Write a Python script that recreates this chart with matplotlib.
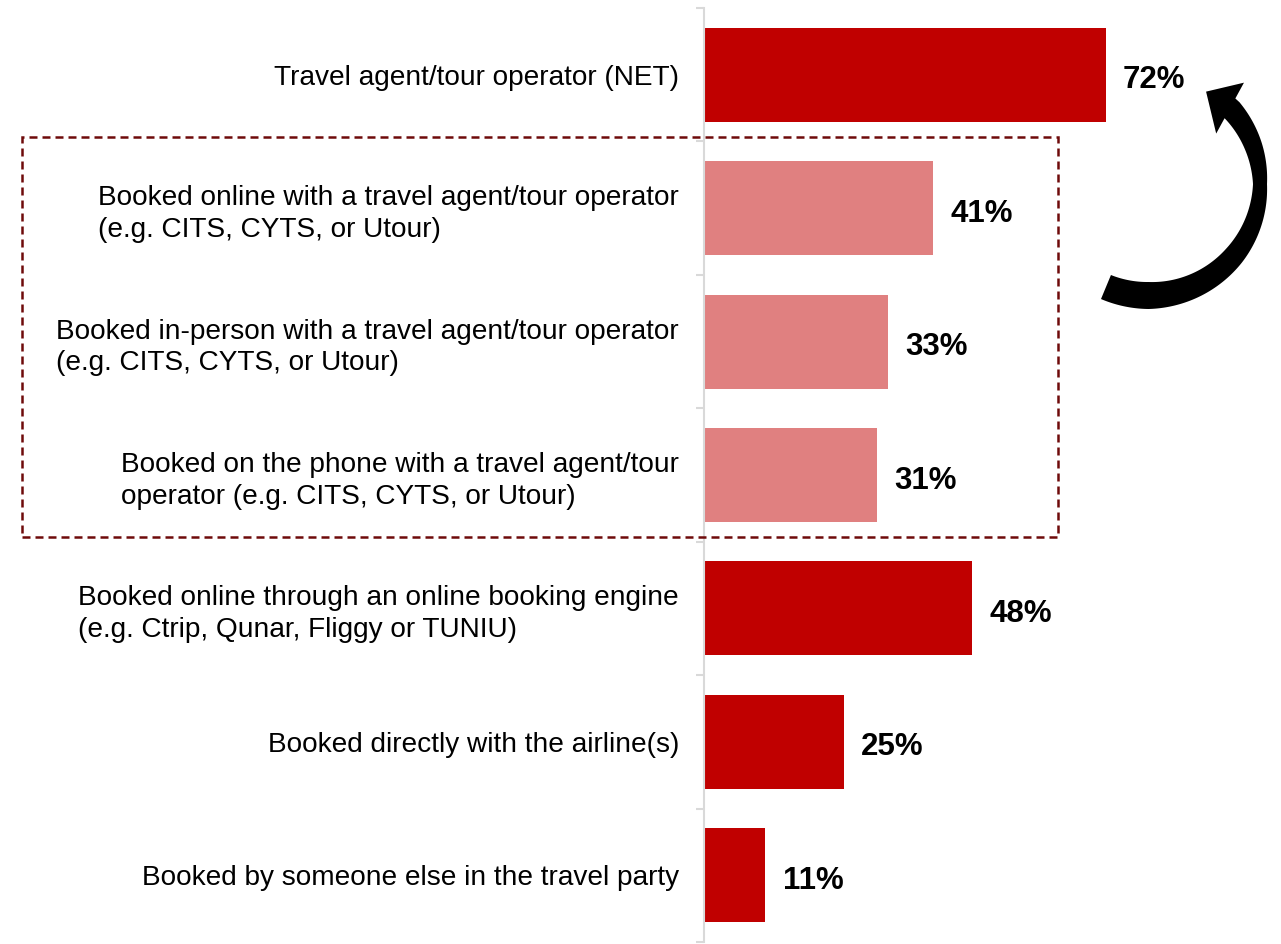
import matplotlib
matplotlib.use("Agg")
import matplotlib.pyplot as plt
import numpy as np
from matplotlib.patches import Rectangle, Polygon

plt.rcParams['font.family'] = ['Liberation Sans', 'DejaVu Sans']

# Booking channels and share of respondents (%)
categories = [
    "Travel agent/tour operator (NET)",
    "Booked online with a travel agent/tour operator\n(e.g. CITS, CYTS, or Utour)",
    "Booked in-person with a travel agent/tour operator\n(e.g. CITS, CYTS, or Utour)",
    "Booked on the phone with a travel agent/tour\noperator (e.g. CITS, CYTS, or Utour)",
    "Booked online through an online booking engine\n(e.g. Ctrip, Qunar, Fliggy or TUNIU)",
    "Booked directly with the airline(s)",
    "Booked by someone else in the travel party",
]
values = [72, 41, 33, 31, 48, 25, 11]
net_components = [False, True, True, True, False, False, False]

DARK = "#C00000"
LIGHT = "#E08080"
AXIS_GREY = "#D9D9D9"
BOX_COLOR = "#6E0A0A"

W, H = 1281, 944
fig = plt.figure(figsize=(W / 100, H / 100), dpi=100)
ax = fig.add_axes([704 / W, 2 / H, 577 / W, 934 / H])

y = np.arange(len(categories))
colors = [LIGHT if c else DARK for c in net_components]
ax.barh(y, values, height=0.705, color=colors, zorder=2)

ax.set_xlim(0, 577 / 5.58)
ax.set_ylim(len(categories) - 0.5, -0.5)

for side in ("top", "right", "bottom"):
    ax.spines[side].set_visible(False)
ax.spines["left"].set_color(AXIS_GREY)
ax.spines["left"].set_linewidth(1.5)
ax.set_xticks([])

ax.set_yticks(y)
ax.set_yticklabels(categories, fontsize=20.2, linespacing=1.28)
ax.tick_params(axis="y", which="major", length=0, pad=18)
ax.set_yticks(np.arange(-0.5, len(categories), 1.0), minor=True)
ax.tick_params(axis="y", which="minor", length=6, width=1.5, color=AXIS_GREY)
for lbl in ax.get_yticklabels():
    lbl.set_multialignment("left")
    if "\n" in lbl.get_text():
        lbl.set_y(lbl.get_position()[1])

for yi, v in zip(y, values):
    ax.annotate(f"{v}%", xy=(v, yi), xytext=(12.5, -9.8), textcoords="offset points",
                ha="left", va="baseline", fontsize=22.5, fontweight="bold")


def fig_xy(px, py):
    return (px / W, 1 - py / H)


# Dashed frame around the NET sub-items
x0, y0 = fig_xy(22, 537)
x1, y1 = fig_xy(1058, 137)
fig.patches.append(Rectangle((x0, y0), x1 - x0, y1 - y0, transform=fig.transFigure,
                             fill=False, edgecolor=BOX_COLOR, linewidth=1.8,
                             linestyle=(0, (3.2, 2.0)), zorder=5))

# Curved arrow pointing from the sub-items up to the NET bar
cx, cy, r = 1148.6, 184.1, 111.4
phi_deg = np.linspace(-112.5, 43, 160)
w = np.interp(phi_deg, [-112.5, -90, -40, 0, 20, 43], [26, 27, 21, 14, 18, 22])
phi = np.radians(phi_deg)
outer = [(cx + (r + wi / 2) * np.cos(p), cy - (r + wi / 2) * np.sin(p)) for p, wi in zip(phi, w)]
inner = [(cx + (r - wi / 2) * np.cos(p), cy - (r - wi / 2) * np.sin(p)) for p, wi in zip(phi, w)]
base = np.array([cx + r * np.cos(phi[-1]), cy - r * np.sin(phi[-1])])
bdir = np.array([0.48, -0.88])
bdir = bdir / np.linalg.norm(bdir)
outer[-1] = tuple(base + w[-1] / 2 * bdir)
inner[-1] = tuple(base - w[-1] / 2 * bdir)
head_out = base + 29 * bdir
head_in = base - 29 * bdir
tip = base + np.array([-24.0, -16.5])
pts = outer + [tuple(head_out), tuple(tip), tuple(head_in)] + inner[::-1]
fig.patches.append(Polygon([fig_xy(px, py) for px, py in pts], closed=True,
                           transform=fig.transFigure, facecolor="black",
                           edgecolor="none", zorder=5))

fig.savefig("out.png", dpi=100)
